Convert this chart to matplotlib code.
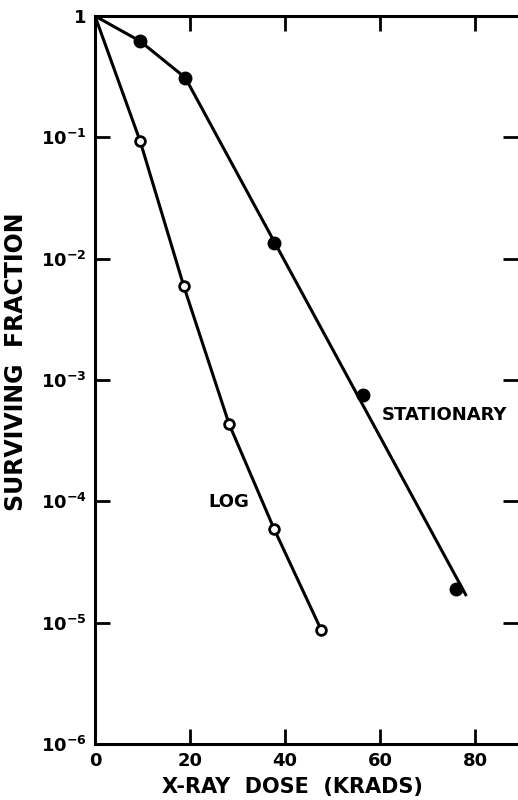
import numpy as np
import matplotlib.pyplot as plt
from matplotlib.ticker import FixedLocator, FixedFormatter

# stationary phase cells (filled circles)
stat_dose = [0, 9.5, 19, 37.7, 56.4, 76]
stat_surv = [1, 0.62, 0.31, 0.0134, 7.5e-4, 1.9e-5]
stat_line_dose = [0, 9.5, 19, 78]
stat_line_surv = [1, 0.62, 0.31, 1.7e-5]

# log phase cells (open circles)
log_dose = [0, 9.5, 18.7, 28.2, 37.7, 47.6]
log_surv = [1, 0.093, 5.9e-3, 4.35e-4, 5.9e-5, 8.7e-6]

xticks = [0, 20, 40, 60, 80]
yticks = [1e-6, 1e-5, 1e-4, 1e-3, 1e-2, 1e-1, 1]
ylabels = [r'$\mathbf{10^{-6}}$', r'$\mathbf{10^{-5}}$', r'$\mathbf{10^{-4}}$',
           r'$\mathbf{10^{-3}}$', r'$\mathbf{10^{-2}}$', r'$\mathbf{10^{-1}}$', r'$\mathbf{1}$']

plt.rcParams['font.family'] = ['DejaVu Sans']
plt.rcParams['font.weight'] = 'bold'

fig = plt.figure(figsize=(5.18, 8), dpi=100)
ax = fig.add_axes([0.1834, 0.07, 0.8166, 0.91])

lw = 2.2
ax.plot(stat_line_dose, stat_line_surv, color='black', lw=lw)
ax.plot(stat_dose[1:], stat_surv[1:], 'o', color='black', ms=9)
ax.plot(log_dose, log_surv, color='black', lw=lw)
ax.plot(log_dose[1:], log_surv[1:], 'o', mfc='white', mec='black', mew=2, ms=7)

ax.set_yscale('log')
ax.set_xlim(0, 89)
ax.set_ylim(1e-6, 1)
ax.xaxis.set_major_locator(FixedLocator(xticks))
ax.yaxis.set_major_locator(FixedLocator(yticks))
ax.yaxis.set_major_formatter(FixedFormatter(ylabels))
ax.yaxis.set_minor_locator(FixedLocator([]))
ax.set_xticklabels([str(t) for t in xticks])

for s in ['left', 'bottom', 'top']:
    ax.spines[s].set_linewidth(2.2)
ax.spines['right'].set_visible(False)

ax.tick_params(direction='in', length=11, width=2, top=True, right=True,
               labelsize=13, pad=6)

ax.text(60.4, 5.1e-4, 'STATIONARY', fontsize=13, fontweight='bold', ha='left', va='center')
ax.text(28.2, 9.9e-5, 'LOG', fontsize=13, fontweight='bold', ha='center', va='center')

ax.set_xlabel('X-RAY  DOSE  (KRADS)', fontsize=15, fontweight='bold')
ax.xaxis.set_label_coords(0.466, -0.045)
ax.set_ylabel('SURVIVING  FRACTION', fontsize=17, fontweight='bold')
ax.yaxis.set_label_coords(-0.158, 0.525)

fig.savefig('out.png', dpi=100)
